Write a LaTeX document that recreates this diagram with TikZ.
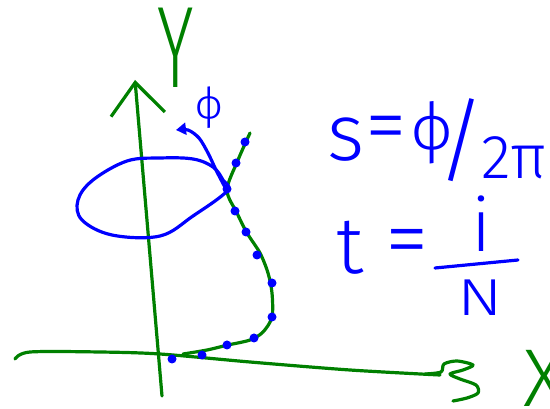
\documentclass[tikz,border=0pt]{standalone}
\usepackage{fontspec}
\setmainfont{Fira Sans}[UprightFont=* Light]
\usepackage{graphicx}
\usetikzlibrary{arrows.meta, positioning}
\definecolor{PenBlue}{RGB}{0, 0, 255}
\definecolor{PenGreen}{RGB}{0, 128, 0}

\begin{document}
\begin{tikzpicture}[
    x=1pt, y=-1pt,
    pen/.style={line width=3.2pt, line cap=round, line join=round},
    green pen/.style={pen, draw=PenGreen},
    blue pen/.style={pen, draw=PenBlue},
    sample/.style={circle, fill=PenBlue, inner sep=0pt, minimum size=9pt},
    hand/.style={inner sep=0pt, text=PenBlue},
    axis label/.style={inner sep=0pt, text=PenGreen}
  ]
  \useasboundingbox (0,0) rectangle (550,409);

  % Osie
  \draw[green pen, -{Straight Barb[length=32pt, width=54pt]}] (162,396) -- (135,80);
  \draw[green pen] plot[smooth, tension=0.5] coordinates {(15,359) (30,352) (100,352) (160,354) (250,362) (350,370) (440,375)};
  \draw[green pen] plot[smooth] coordinates {(425,374) (441,372) (444,364) (457,361) (473,365) (463,370) (450,374) (460,379) (476,385) (478,393) (467,398) (453,401)};
  \node[axis label, font=\fontsize{116}{116}\selectfont] (yLbl) at (176,48) {\scalebox{0.6}[1]{Y}};
  \node[axis label, font=\fontsize{82}{82}\selectfont] (xLbl) at (545,378) {X};

  % Krzywa i probki
  \draw[green pen] plot[smooth] coordinates {(250,133) (238,160) (227,190) (237,213) (247,233) (260,253) (268,273) (272,293) (272,317) (263,332) (250,340) (228,345) (207,350) (183,354)};
  \foreach \p [count=\i] in {(245,142), (236,163), (227,189), (235,211), (246,232), (257,255), (272,283), (272,317), (254,338), (227,345), (202,355), (172,359)}
    \node[sample] (dot\i) at \p {};

  % Petla i kat
  \draw[blue pen] plot[smooth cycle, tension=0.6] coordinates {(227,191) (193,216) (160,236) (112,235) (82,220) (78,200) (93,180) (127,161) (160,158) (193,159) (213,167) (223,180)};
  \draw[blue pen, -{Triangle[length=10pt, width=12pt]}] plot[smooth] coordinates {(227,191) (217,172) (208,153) (199,138) (188,130) (176,130)};
  \node[hand, font=\fontsize{44}{44}\selectfont] (phiAngle) at (209,108) {ϕ};

  % Wzory
  \node[hand, font=\fontsize{80}{80}\selectfont] (s) at (346,140) {s};
  \node[hand, font=\fontsize{84}{84}\selectfont] (eqS) at (386,135) {=};
  \node[hand, font=\fontsize{66}{66}\selectfont] (phi) at (432,133) {ϕ};
  \node[hand, font=\fontsize{92}{92}\selectfont] (slash) at (461,140) {/};
  \node[hand, font=\fontsize{62}{62}\selectfont] (twoPi) at (514,158) {2π};

  \node[hand, font=\fontsize{80}{80}\selectfont] (t) at (350,248) {t};
  \node[hand, font=\fontsize{88}{88}\selectfont] (eqT) at (407,249) {=};
  \node[hand, font=\fontsize{74}{74}\selectfont] (i) at (481,224) {i};
  \coordinate (barL) at (435,268);
  \coordinate (barR) at (518,260);
  \draw[blue pen] (barL) -- (barR);
  \node[hand, font=\fontsize{52}{52}\selectfont] (N) at (480,298) {\scalebox{1.3}[1]{N}};
\end{tikzpicture}
\end{document}
